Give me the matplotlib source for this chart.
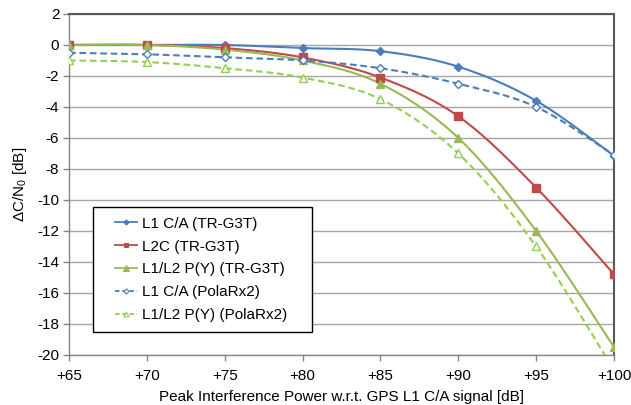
import numpy as np
import matplotlib
matplotlib.use("Agg")
import matplotlib.pyplot as plt
from matplotlib.lines import Line2D
from matplotlib.patches import Rectangle

plt.rcParams['font.family'] = ['Liberation Sans', 'DejaVu Sans']
plt.rcParams['mathtext.fontset'] = 'custom'
plt.rcParams['mathtext.rm'] = 'Liberation Sans'
plt.rcParams['mathtext.it'] = 'Liberation Sans'

x_vals = [65, 70, 75, 80, 85, 90, 95, 100]
x_labels = ['+65', '+70', '+75', '+80', '+85', '+90', '+95', '+100']

l1ca_tr = [0.0, 0.0, 0.0, -0.2, -0.4, -1.4, -3.6, -7.15]
l2c_tr = [0.0, 0.0, -0.2, -0.8, -2.1, -4.6, -9.2, -14.8]
py_tr = [0.0, 0.0, -0.3, -1.0, -2.5, -6.0, -12.0, -19.5]
l1ca_pr = [-0.5, -0.6, -0.8, -1.0, -1.5, -2.5, -4.0, -7.1]
py_pr = [-1.0, -1.1, -1.5, -2.1, -3.5, -7.0, -13.0, -21.0]

labels = ['L1 C/A (TR-G3T)', 'L2C (TR-G3T)', 'L1/L2 P(Y) (TR-G3T)',
          'L1 C/A (PolaRx2)', 'L1/L2 P(Y) (PolaRx2)']

blue = '#4A7EBB'
red = '#BE4B48'
green = '#98B954'
lgreen = '#92D050'

XMIN, XMAX, YMIN, YMAX = 65, 100, -20, 2
SX, SY = 545.0, 340.0

def smooth(xs, ys, n=40):
    px = (np.asarray(xs, float) - XMIN) / (XMAX - XMIN) * SX
    py = (np.asarray(ys, float) - YMIN) / (YMAX - YMIN) * SY
    P = np.column_stack([px, py])
    m = len(P)
    out = []
    for i in range(m - 1):
        p0 = P[i - 1] if i > 0 else P[i]
        p1 = P[i]
        p2 = P[i + 1]
        p3 = P[i + 2] if i + 2 < m else P[i + 1]
        c1 = p1 + (p2 - p0) / 6.0
        c2 = p2 - (p3 - p1) / 6.0
        t = np.linspace(0, 1, n)[:, None]
        seg = ((1 - t) ** 3) * p1 + 3 * ((1 - t) ** 2) * t * c1 + 3 * (1 - t) * t ** 2 * c2 + t ** 3 * p2
        out.append(seg if i == 0 else seg[1:])
    S = np.vstack(out)
    return S[:, 0] / SX * (XMAX - XMIN) + XMIN, S[:, 1] / SY * (YMAX - YMIN) + YMIN

fig = plt.figure(figsize=(6.31, 4.05), dpi=100)
ax = fig.add_axes([0.1094, 0.1235, 0.8637, 0.8420])

DASH = (3.2, 1.8)
series = [
    (l1ca_tr, blue, '-', 'D', blue, 4.0, 1.5),
    (l2c_tr, red, '-', 's', red, 5.5, 1.5),
    (py_tr, green, '-', '^', green, 6.0, 1.5),
    (l1ca_pr, blue, '--', 'D', 'white', 4.0, 1.5),
    (py_pr, lgreen, '--', '^', 'white', 5.5, 1.5),
]

handles = []
for (ys, col, ls, mk, mfc, ms, lw), lab in zip(series, labels):
    sx, sy = smooth(x_vals, ys)
    ln, = ax.plot(sx, sy, color=col, linestyle=ls, linewidth=lw, zorder=3)
    if ls == '--':
        ln.set_dashes(DASH)
    ax.plot(x_vals, ys, linestyle='none', marker=mk, markersize=ms,
            markerfacecolor=mfc, markeredgecolor=col, markeredgewidth=1.0, zorder=4)
    h = Line2D([], [], color=col, linestyle=ls, linewidth=1.3, marker=mk,
               markersize=ms * 0.65, markerfacecolor=mfc, markeredgecolor=col,
               markeredgewidth=0.8)
    if ls == '--':
        h.set_dashes((2.5, 1.5))
    handles.append(h)

ax.set_xlim(XMIN, XMAX)
ax.set_ylim(YMIN, YMAX)
ax.set_xticks(x_vals)
ax.set_xticklabels(x_labels)
ax.set_yticks(np.arange(-20, 3, 2))
ax.set_yticklabels([str(v) for v in range(-20, 3, 2)])

ax.yaxis.grid(True, color='#A6A6A6', linewidth=1.0)
ax.set_axisbelow(True)
ax.tick_params(axis='both', direction='out', length=4, color='#868686',
               labelsize=11, labelcolor='black', width=1.0)
ax.tick_params(axis='x', pad=6)
ax.tick_params(axis='y', pad=3)
for s in ['left', 'bottom']:
    ax.spines[s].set_color('#868686')
    ax.spines[s].set_linewidth(1.0)
for s in ['top', 'right']:
    ax.spines[s].set_color('#595959')
    ax.spines[s].set_linewidth(1.5)

ax.set_xlabel('Peak Interference Power w.r.t. GPS L1 C/A signal [dB]', fontsize=11, labelpad=5)
ax.set_ylabel(r'ΔC/N$_{\mathregular{0}}$ [dB]', fontsize=11, labelpad=6)

# legend frame
frame = Rectangle((0.044, 0.0674), 0.4018, 0.3666, transform=ax.transAxes,
                  facecolor='white', edgecolor='black', linewidth=1.0, zorder=5)
ax.add_patch(frame)
leg = ax.legend(handles, labels, loc='center left', bbox_to_anchor=(0.0844, 0.2507),
                borderaxespad=0, borderpad=0, fontsize=11, frameon=False,
                handlelength=1.45, handletextpad=0.3, labelspacing=0.58)
leg.set_zorder(6)

fig.savefig('out.png', dpi=100)
